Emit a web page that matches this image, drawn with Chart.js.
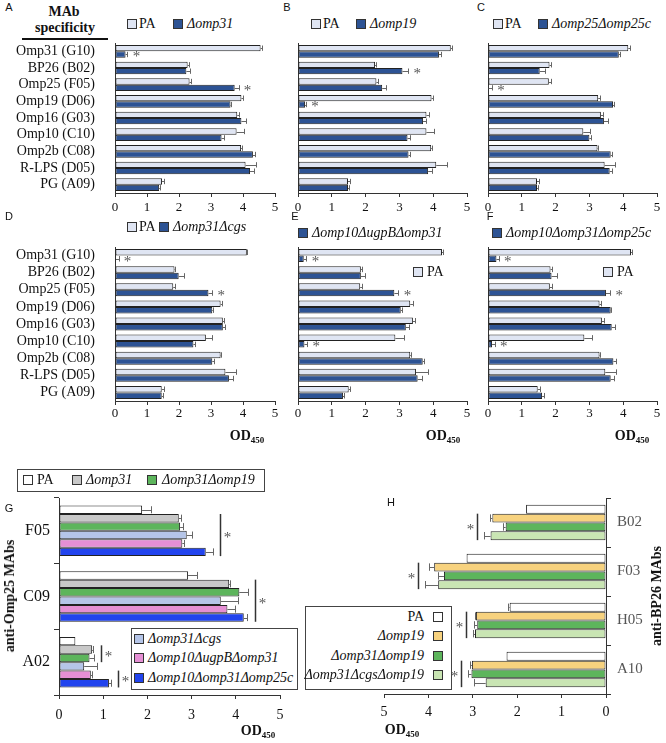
<!DOCTYPE html>
<html lang="en">
<head>
<meta charset="UTF-8">
<title>MAb reactivity of Brucella mutants</title>
<script src="https://cdn.jsdelivr.net/npm/chart.js"></script>
<style>
  body { margin: 0; background: #fff; }
  #fig { position: relative; width: 666px; height: 743px; overflow: hidden; font-family: "Liberation Serif", serif; color: #111; }
  #fig canvas { position: absolute; }
  .t { position: absolute; white-space: nowrap; font-size: 14px; line-height: 16px; }
  .i { font-style: italic; }
  .b { font-weight: bold; }
  .let { font-family: "Liberation Sans", Arial, sans-serif; font-size: 11px; }
  .sq { position: absolute; width: 8px; height: 8px; border: 1px solid #333; }
  .box { position: absolute; border: 1px solid #444; background: #fff; }
  .od sub { font-size: 9px; vertical-align: -3px; }
</style>
</head>
<body>
<div id="fig">
  <canvas id="cA"></canvas><canvas id="cB"></canvas><canvas id="cC"></canvas>
  <canvas id="cD"></canvas><canvas id="cE"></canvas><canvas id="cF"></canvas>
  <canvas id="cG"></canvas><canvas id="cH"></canvas>
</div>
<script>
// ---- data (OD450) ----
const mabLabels = ['Omp31 (G10)', 'BP26 (B02)', 'Omp25 (F05)', 'Omp19 (D06)', 'Omp16 (G03)', 'Omp10 (C10)', 'Omp2b (C08)', 'R-LPS (D05)', 'PG (A09)'];

const paA = [4.55, 2.27, 2.33, 3.95, 3.82, 3.80, 3.94, 4.08, 1.47];
const paAErr = [0.03, 0.04, 0.04, 0.06, 0.07, 0.23, 0.02, 0.33, 0.05];
const omp31A = [0.33, 2.23, 3.74, 3.61, 3.95, 3.33, 4.31, 4.22, 1.38];
const omp31AErr = [0.06, 0.12, 0.12, 0.02, 0.14, 0.07, 0.05, 0.12, 0.03];
const sigA = [0, 2];

const paB = [4.52, 2.28, 2.32, 3.95, 3.80, 3.80, 3.94, 4.09, 1.48];
const paBErr = [0.03, 0.03, 0.05, 0.05, 0.07, 0.22, 0.02, 0.32, 0.05];
const omp19B = [4.17, 3.09, 2.49, 0.21, 3.70, 3.24, 3.27, 3.85, 1.48];
const omp19BErr = [0.05, 0.17, 0.12, 0.03, 0.08, 0.07, 0.05, 0.12, 0.03];
const sigB = [1, 3];

const paC = [4.15, 1.82, 1.80, 3.26, 3.34, 2.82, 3.24, 3.45, 1.45];
const paCErr = [0.04, 0.03, 0.05, 0.05, 0.06, 0.20, 0.02, 0.30, 0.05];
const omp25C = [3.87, 1.53, 0.02, 3.70, 3.43, 3.00, 3.63, 3.60, 1.45];
const omp25CErr = [0.05, 0.17, 0.10, 0.02, 0.13, 0.06, 0.05, 0.08, 0.03];
const sigC = [2];

const paD = [4.12, 1.86, 1.82, 3.30, 3.37, 2.84, 3.30, 3.45, 1.46];
const paDErr = [0.02, 0.03, 0.05, 0.04, 0.05, 0.20, 0.02, 0.33, 0.06];
const cgsD = [0.03, 1.99, 2.92, 3.04, 3.37, 2.45, 3.04, 3.56, 1.46];
const cgsDErr = [0.08, 0.17, 0.12, 0.03, 0.08, 0.05, 0.05, 0.12, 0.03];
const sigD = [0, 2];

const paE = [4.26, 1.86, 1.84, 3.32, 3.40, 2.88, 3.32, 3.49, 1.50];
const paEErr = [0.02, 0.03, 0.05, 0.07, 0.07, 0.25, 0.02, 0.37, 0.05];
const ugpE = [0.17, 1.86, 2.85, 3.04, 3.19, 0.19, 3.69, 3.54, 1.33];
const ugpEErr = [0.08, 0.12, 0.12, 0.03, 0.10, 0.08, 0.05, 0.13, 0.03];
const sigE = [0, 2, 5];

const paF = [4.23, 1.85, 1.83, 3.30, 3.37, 2.85, 3.30, 3.47, 1.47];
const paFErr = [0.02, 0.03, 0.05, 0.05, 0.06, 0.24, 0.02, 0.33, 0.07];
const omp25cF = [0.25, 1.88, 3.49, 3.63, 3.66, 0.12, 3.71, 3.63, 1.60];
const omp25cFErr = [0.07, 0.17, 0.13, 0.02, 0.10, 0.08, 0.08, 0.10, 0.05];
const sigF = [0, 2, 5];

const gLabels = ['F05', 'C09', 'A02'];
const gPA = [1.88, 2.92, 0.37];          const gPAErr = [0.21, 0.21, 0];
const gOmp31 = [2.71, 3.85, 0.75];       const gOmp31Err = [0.06, 0.02, 0.02];
const gOmp31Omp19 = [2.74, 4.08, 0.69];  const gOmp31Omp19Err = [0.07, 0.20, 0.11];
const gCgs = [2.89, 3.66, 0.57];         const gCgsErr = [0.11, 0.38, 0.30];
const gUgpB = [2.79, 3.81, 0.72];        const gUgpBErr = [0.03, 0.17, 0.02];
const gOmp25c = [3.32, 4.18, 1.13];      const gOmp25cErr = [0.17, 0.08, 0.05];
const gSig = [{cat: 0, from: 1, to: 5}, {cat: 1, from: 1, to: 5}, {cat: 2, from: 1, to: 2}, {cat: 2, from: 4, to: 5}];

const hLabels = ['B02', 'F03', 'H05', 'A10'];
const hPA = [1.80, 3.14, 2.17, 2.24];          const hPAErr = [0, 0, 0.04, 0];
const hOmp19 = [2.56, 3.87, 2.93, 3.02];       const hOmp19Err = [0.05, 0.12, 0.02, 0.04];
const hOmp31Omp19 = [2.26, 3.65, 2.90, 3.03];  const hOmp31Omp19Err = [0.06, 0.13, 0.07, 0.07];
const hCgsOmp19 = [2.60, 3.78, 2.95, 2.71];    const hCgsOmp19Err = [0.15, 0.30, 0.05, 0.26];
const hSig = [{cat: 0, from: 1, to: 3}, {cat: 1, from: 1, to: 3}, {cat: 2, from: 1, to: 3}, {cat: 3, from: 1, to: 3}];

// ---- styling ----
const PA_FILL = '#dfe5f3', MUT_FILL = '#2d5394', EDGE = '#222', AXIS = '#333', STAR = '#555', ERR = '#666';
Chart.defaults.font.family = '"Liberation Serif", serif';
Chart.defaults.color = '#111';
Chart.defaults.animation = false;

// error bars, asterisks and significance brackets
const marks = {
  id: 'marks',
  afterDatasetsDraw(chart, args, opts) {
    const ctx = chart.ctx, xs = chart.scales.x;
    const dir = xs.options.reverse ? -1 : 1;
    const tip = (di, i) => {
      const ds = chart.data.datasets[di];
      return xs.getPixelForValue(ds.data[i] + (ds.errors[i] || 0));
    };
    ctx.save();
    ctx.lineWidth = 1;
    ctx.strokeStyle = ERR;
    chart.data.datasets.forEach((ds, di) => {
      chart.getDatasetMeta(di).data.forEach((bar, i) => {
        if (!ds.errors[i]) return;
        const x1 = Math.round(tip(di, i)) + 0.5, y = Math.round(bar.y) + 0.5, hh = bar.height * 0.42;
        ctx.beginPath();
        ctx.moveTo(bar.x, y); ctx.lineTo(x1, y);
        ctx.moveTo(x1, bar.y - hh); ctx.lineTo(x1, bar.y + hh);
        ctx.stroke();
      });
    });
    ctx.fillStyle = STAR;
    ctx.font = '15px "Liberation Serif"';
    ctx.textAlign = 'center';
    ctx.textBaseline = 'middle';
    (opts.stars || []).forEach(i => {
      const bar = chart.getDatasetMeta(opts.starSet).data[i];
      ctx.fillText('*', tip(opts.starSet, i) + dir * 9, bar.y + 3);
    });
    (opts.brackets || []).forEach(b => {
      const top = chart.getDatasetMeta(b.from).data[b.cat];
      const bot = chart.getDatasetMeta(b.to).data[b.cat];
      let edge = dir > 0 ? -Infinity : Infinity;
      for (let d = b.from; d <= b.to; d++) {
        const p = tip(d, b.cat);
        edge = dir > 0 ? Math.max(edge, p) : Math.min(edge, p);
      }
      const lx = Math.round(edge + dir * 7) + 0.5;
      ctx.strokeStyle = AXIS;
      ctx.lineWidth = 1.5;
      ctx.beginPath();
      ctx.moveTo(lx, top.y - top.height / 2);
      ctx.lineTo(lx, bot.y + bot.height / 2);
      ctx.stroke();
      ctx.fillText('*', lx + dir * 7, (top.y + bot.y) / 2 + 3);
    });
    ctx.restore();
  }
};

function bars(label, data, errors, fill, cat) {
  return { label, data, errors, backgroundColor: fill, borderColor: EDGE, borderWidth: 1,
           borderSkipped: false, barPercentage: 1, categoryPercentage: cat };
}

function xAxis(r, size, pad, reverse) {
  return {
    type: 'linear', min: 0, max: 5, reverse: !!reverse,
    ticks: { stepSize: 1, padding: pad, font: { size }, color: '#111' },
    grid: { drawOnChartArea: false, drawTicks: true, tickLength: 4, color: AXIS },
    border: { display: true, color: AXIS },
    afterFit(s) { s.height = r.hb; s.paddingLeft = 0; s.paddingRight = 0; }
  };
}

function yAxis(r, extra) {
  return Object.assign({
    type: 'category',
    border: { display: true, color: AXIS },
    afterFit(s) { s.width = r.wl; s.paddingTop = 0; s.paddingBottom = 0; }
  }, extra);
}

// r: plot rectangle L,T,R,B plus label room wl/hb and paddings
function build(id, r, labels, datasets, scales, plug) {
  const cv = document.getElementById(id);
  const w = r.R - r.L + r.wl + r.pl + r.pr;
  const h = r.B - r.T + r.hb + r.pt + r.pb;
  cv.width = w; cv.height = h;
  cv.style.width = w + 'px'; cv.style.height = h + 'px';
  cv.style.left = (r.side === 'right' ? r.L - r.pl : r.L - r.wl - r.pl) + 'px';
  cv.style.top = (r.T - r.pt) + 'px';
  return new Chart(cv, {
    type: 'bar',
    data: { labels, datasets },
    options: {
      indexAxis: 'y', responsive: false,
      layout: { padding: { left: r.pl, right: r.pr, top: r.pt, bottom: r.pb } },
      scales,
      plugins: { legend: { display: false }, tooltip: { enabled: false }, marks: plug }
    },
    plugins: [marks]
  });
}

function pairPanel(id, r, pa, paErr, mut, mutErr, sig, showLabels, tickPad) {
  build(id, r, mabLabels,
    [bars('PA', pa, paErr, PA_FILL, 0.76), bars('mutant', mut, mutErr, MUT_FILL, 0.76)],
    {
      x: xAxis(r, 13, tickPad),
      y: yAxis(r, {
        ticks: { display: showLabels, padding: 12, font: { size: 14 }, color: '#111', autoSkip: false },
        grid: { display: false }
      })
    },
    { stars: sig, starSet: 1 });
}

const row1 = { T: 43, B: 193, hb: 30, pt: 2, pb: 0, pl: 0, pr: 8 };
const row2 = { T: 247, B: 401, hb: 28, pt: 2, pb: 0, pl: 0, pr: 8 };
pairPanel('cA', { ...row1, L: 115, R: 275, wl: 115 }, paA, paAErr, omp31A, omp31AErr, sigA, true, 3);
pairPanel('cB', { ...row1, L: 298, R: 467, wl: 10 }, paB, paBErr, omp19B, omp19BErr, sigB, false, 3);
pairPanel('cC', { ...row1, L: 488, R: 657, wl: 10, pr: 6 }, paC, paCErr, omp25C, omp25CErr, sigC, false, 3);
pairPanel('cD', { ...row2, L: 115, R: 275, wl: 115 }, paD, paDErr, cgsD, cgsDErr, sigD, true, 1);
pairPanel('cE', { ...row2, L: 298, R: 467, wl: 10 }, paE, paEErr, ugpE, ugpEErr, sigE, false, 1);
pairPanel('cF', { ...row2, L: 488, R: 657, wl: 10, pr: 6 }, paF, paFErr, omp25cF, omp25cFErr, sigF, false, 1);

// panel G
const rG = { L: 59, R: 280, T: 498, B: 695, wl: 59, hb: 30, pl: 0, pr: 8, pt: 2, pb: 0 };
build('cG', rG, gLabels, [
  bars('PA', gPA, gPAErr, '#ffffff', 0.77),
  bars('Δomp31', gOmp31, gOmp31Err, '#c8c8c8', 0.77),
  bars('Δomp31Δomp19', gOmp31Omp19, gOmp31Omp19Err, '#5db55c', 0.77),
  bars('Δomp31Δcgs', gCgs, gCgsErr, '#b5c5e8', 0.77),
  bars('Δomp10ΔugpBΔomp31', gUgpB, gUgpBErr, '#e58fd4', 0.77),
  bars('Δomp10Δomp31Δomp25c', gOmp25c, gOmp25cErr, '#2244ee', 0.77)
], {
  x: xAxis(rG, 14, 8),
  y: yAxis(rG, {
    ticks: { padding: 4, font: { size: 16 }, color: '#111' },
    grid: { drawOnChartArea: false, drawTicks: true, tickLength: 5, color: AXIS }
  })
}, { brackets: gSig });

// panel H (mirrored)
const rH = { L: 384, R: 606, T: 498, B: 694, wl: 50, hb: 30, pl: 10, pr: 0, pt: 2, pb: 0, side: 'right' };
build('cH', rH, hLabels, [
  bars('PA', hPA, hPAErr, '#ffffff', 0.72),
  bars('Δomp19', hOmp19, hOmp19Err, '#f7d27e', 0.72),
  bars('Δomp31Δomp19', hOmp31Omp19, hOmp31Omp19Err, '#5db55c', 0.72),
  bars('Δomp31ΔcgsΔomp19', hCgsOmp19, hCgsOmp19Err, '#c9e5b3', 0.72)
], {
  x: xAxis(rH, 14, 6, true),
  y: yAxis(rH, {
    position: 'right',
    ticks: { padding: 6, font: { size: 15 }, color: '#555' },
    grid: { drawOnChartArea: false, drawTicks: true, tickLength: 5, color: AXIS }
  })
}, { brackets: hSig });

// ---- text, legends ----
const fig = document.getElementById('fig');
function txt(x, y, html, cls, align, rot) {
  const d = document.createElement('div');
  d.className = 't ' + (cls || '');
  d.innerHTML = html;
  d.style.left = x + 'px';
  d.style.top = y + 'px';
  let tf = align === 'center' ? 'translate(-50%,-50%)' : align === 'right' ? 'translate(-100%,-50%)' : 'translateY(-50%)';
  if (rot) tf += ' rotate(-90deg)';
  d.style.transform = tf;
  fig.appendChild(d);
}
function sq(cx, cy, color) {
  const d = document.createElement('div');
  d.className = 'sq';
  d.style.left = (cx - 5) + 'px';
  d.style.top = (cy - 5) + 'px';
  d.style.background = color;
  fig.appendChild(d);
}
function box(l, t, w, h) {
  const d = document.createElement('div');
  d.className = 'box';
  Object.assign(d.style, { left: l + 'px', top: t + 'px', width: w + 'px', height: h + 'px' });
  fig.appendChild(d);
}

[['A', 9, 7], ['B', 287, 7], ['C', 481, 7], ['D', 9, 216], ['E', 295, 216], ['F', 490, 216], ['G', 9, 508], ['H', 391, 502]]
  .forEach(([s, x, y]) => txt(x, y, s, 'let', 'center'));

txt(64, 12, 'MAb', 'b', 'center');
txt(65, 28, 'specificity', 'b', 'center');
const rule = document.createElement('div');
Object.assign(rule.style, { position: 'absolute', left: '22px', top: '38px', width: '86px', height: '1.5px', background: '#111' });
fig.appendChild(rule);

function pairLegend(y, xPA, xMut, name) {
  sq(xPA, y, PA_FILL); txt(xPA + 7, y, 'PA');
  sq(xMut, y, MUT_FILL); txt(xMut + 9, y, name, 'i');
}
pairLegend(24, 132, 178, 'Δomp31');
pairLegend(24, 316, 361, 'Δomp19');
pairLegend(24, 498, 543, 'Δomp25Δomp25c');
pairLegend(227, 132, 164, 'Δomp31Δcgs');
sq(303, 233, MUT_FILL); txt(312, 233, 'Δomp10ΔugpBΔomp31', 'i');
sq(418, 272, PA_FILL); txt(427, 272, 'PA');
sq(497, 233, MUT_FILL); txt(506, 233, 'Δomp10Δomp31Δomp25c', 'i');
sq(608, 272, PA_FILL); txt(617, 272, 'PA');

const od = 'OD<sub>450</sub>';
[[247, 438], [443, 438], [632, 438], [258, 733], [402, 732]].forEach(([x, y]) => txt(x, y, od, 'b od', 'center'));

// G legends
box(17, 469, 246, 21);
sq(28, 480, '#ffffff'); txt(37, 480, 'PA');
sq(77, 480, '#c8c8c8'); txt(86, 480, 'Δomp31', 'i');
sq(152, 480, '#5db55c'); txt(162, 480, 'Δomp31Δomp19', 'i');
box(131, 628, 165, 60);
sq(139, 639, '#b5c5e8'); txt(148, 639, 'Δomp31Δcgs', 'i');
sq(139, 658, '#e58fd4'); txt(148, 658, 'Δomp10ΔugpBΔomp31', 'i');
sq(139, 678, '#2244ee'); txt(148, 678, 'Δomp10Δomp31Δomp25c', 'i');

// H legend
box(305, 606, 145, 82);
txt(424, 617, 'PA', '', 'right'); sq(438, 617, '#ffffff');
txt(424, 636, 'Δomp19', 'i', 'right'); sq(438, 636, '#f7d27e');
txt(424, 656, 'Δomp31Δomp19', 'i', 'right'); sq(438, 656, '#5db55c');
txt(424, 675, 'Δomp31ΔcgsΔomp19', 'i', 'right'); sq(438, 675, '#c9e5b3');

txt(10, 596, 'anti-Omp25 MAbs', 'b', 'center', true);
txt(657, 596, 'anti-BP26 MAbs', 'b', 'center', true);
</script>
</body>
</html>
